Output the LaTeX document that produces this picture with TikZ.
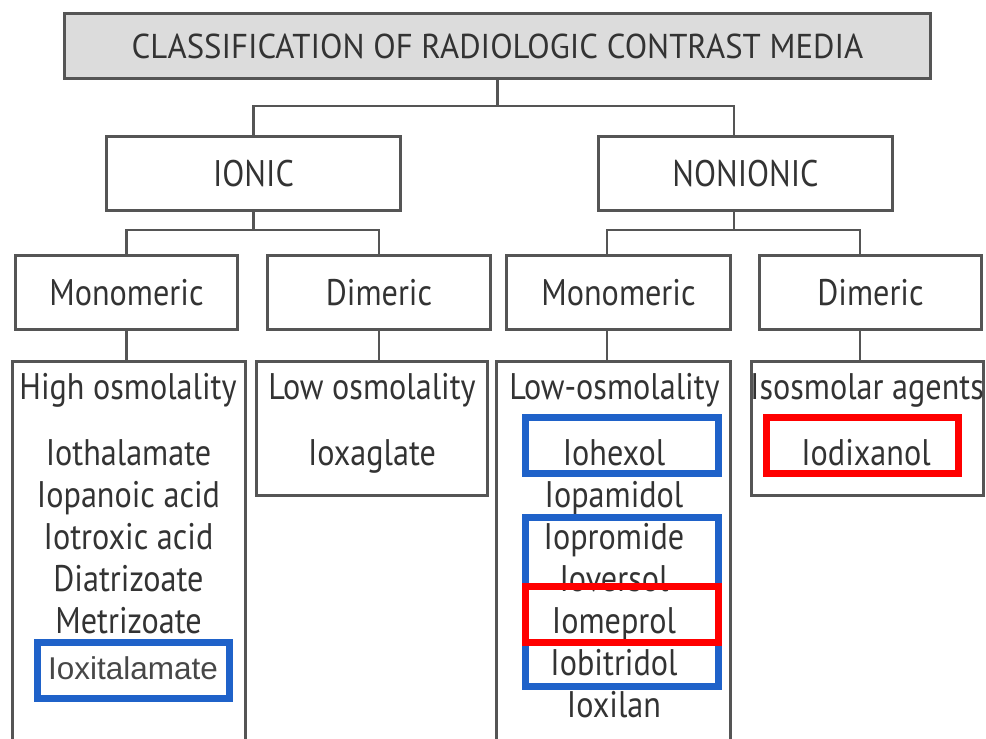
\documentclass[tikz,border=0pt]{standalone}
\usepackage{fontspec}
\setmainfont{PT Sans}[FakeStretch=0.87]
\newfontfamily\titlefont{PT Sans}[FakeStretch=0.95]
\newfontfamily\arialfont{Liberation Sans}
\definecolor{linegray}{HTML}{555555}
\definecolor{textgray}{HTML}{333333}
\definecolor{titlefill}{HTML}{DCDCDC}
\definecolor{markblue}{HTML}{1F62C9}
\definecolor{markred}{HTML}{FF0000}
\tikzset{
  box/.style={draw=linegray, line width=2.6pt, inner sep=0pt, text=textgray,
    font=\fontsize{37}{42}\selectfont},
  itemtext/.style={text=textgray, font=\fontsize{37}{42}\selectfont, anchor=base, inner sep=0pt},
  link/.style={draw=linegray, line width=2.6pt},
  markbox/.style={draw=#1, line width=7pt, inner sep=0pt, minimum width=193pt, minimum height=56pt},
}
\begin{document}
\begin{tikzpicture}[x=1pt,y=-1pt]
  \useasboundingbox (0,0) rectangle (986,739);
  \clip (0,0) rectangle (986,739);
  % top levels
  \node[box, fill=titlefill, minimum width=866pt, minimum height=65pt,
    font=\titlefont\fontsize{34.5}{40}\selectfont] (title) at (497.5,46) {CLASSIFICATION OF RADIOLOGIC CONTRAST MEDIA};
  \node[box, minimum width=294pt, minimum height=74pt] (ionic) at (253.5,173.5) {IONIC};
  \node[box, minimum width=294pt, minimum height=74pt] (nonionic) at (745.5,173.5) {NONIONIC};
  \node[box, minimum width=222pt, minimum height=74pt] (monoI) at (126.5,292.5) {Monomeric};
  \node[box, minimum width=223pt, minimum height=74pt] (dimI) at (379,292.5) {Dimeric};
  \node[box, minimum width=224pt, minimum height=74pt] (monoN) at (618.5,292.5) {Monomeric};
  \node[box, minimum width=222pt, minimum height=74pt] (dimN) at (870.5,292.5) {Dimeric};
  % columns
  \node[box, minimum width=233pt, minimum height=440pt] (high) at (129,581.5) {};
  \node[box, minimum width=231pt, minimum height=134pt] (lowI) at (372,428.5) {};
  \node[box, minimum width=234pt, minimum height=440pt] (lowN) at (613.5,581.5) {};
  \node[box, minimum width=232pt, minimum height=134pt] (isoN) at (867.5,428.5) {};
  % connectors
  \coordinate (busA) at (497.5,106);
  \coordinate (busB) at (253.5,230);
  \coordinate (busC) at (734,230);
  \draw[link] (title.south) -- (busA);
  \draw[link] (ionic.north) |- (busA) -| ([xshift=-11.5pt]nonionic.north);
  \draw[link] (ionic.south) -- (busB);
  \draw[link] (monoI.north) |- (busB) -| (dimI.north);
  \draw[link] ([xshift=-11.5pt]nonionic.south) -- (busC);
  \draw[link] ([xshift=-11.5pt]monoN.north) |- (busC) -| ([xshift=-10.5pt]dimN.north);
  \draw[link] (monoI.south) -- (monoI.south |- high.north);
  \draw[link] (dimI.south) -- (dimI.south |- lowI.north);
  \draw[link] ([xshift=-11.5pt]monoN.south) -- ([xshift=-11.5pt]monoN.south |- lowN.north);
  \draw[link] ([xshift=-10.5pt]dimN.south) -- ([xshift=-10.5pt]dimN.south |- isoN.north);
  % column texts
  \node[itemtext] (highHead) at (128,399) {High osmolality};
  \node[itemtext] (lowIHead) at (372,399) {Low osmolality};
  \node[itemtext] (lowNHead) at (614.5,399) {Low-osmolality};
  \node[itemtext] (isoNHead) at (867,399) {Isosmolar agents};
  \foreach \drug [count=\i] in {Iothalamate, Iopanoic acid, Iotroxic acid, Diatrizoate, Metrizoate}
    \node[itemtext] (high\i) at (128.5,423+42*\i) {\drug};
  \node[itemtext, text=textgray!90, font=\arialfont\fontsize{31.5}{36}\selectfont] (high6) at (133,679) {Ioxitalamate};
  \node[itemtext] (lowI1) at (372,465) {Ioxaglate};
  \foreach \drug [count=\i] in {Iohexol, Iopamidol, Iopromide, Ioversol, Iomeprol, Iobitridol, Ioxilan}
    \node[itemtext] (lowN\i) at (614,423+42*\i) {\drug};
  \node[itemtext] (isoN1) at (866,465) {Iodixanol};
  % highlights
  \node[markbox=markblue] (markA) at (621.5,445) {};
  \node[markbox=markblue, minimum height=169pt] (markB) at (621.5,601.5) {};
  \node[markbox=markred] (markC) at (621.5,614) {};
  \node[markbox=markred, minimum width=192pt] (markD) at (862,445) {};
  \node[markbox=markblue, minimum width=192pt] (markE) at (133,670) {};
\end{tikzpicture}
\end{document}
